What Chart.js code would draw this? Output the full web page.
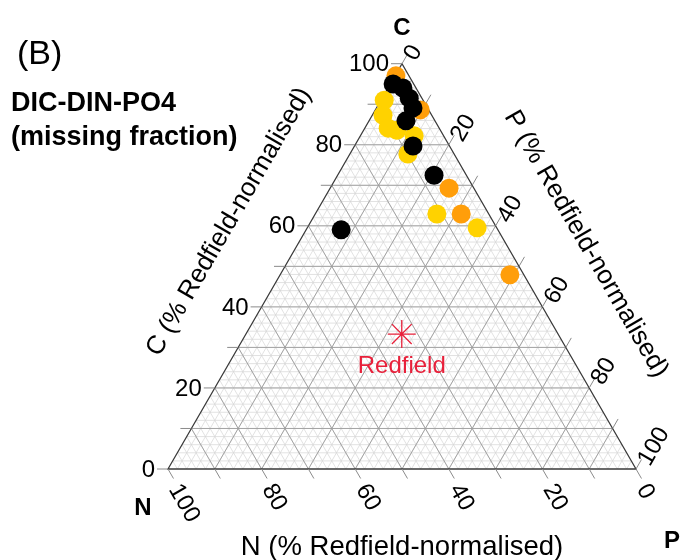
<!DOCTYPE html>
<html>
<head>
<meta charset="utf-8">
<script src="https://cdn.jsdelivr.net/npm/chart.js@4.4.1/dist/chart.umd.min.js"></script>
<style>
  html, body { margin: 0; padding: 0; background: #fff; }
  canvas { display: block; }
</style>
</head>
<body>
<canvas id="ternary" width="681" height="560"></canvas>
<script>
// samples in % Redfield-normalised; N = 100 - C - P
const blackC  = [95.0, 94.0, 91.5, 89.1, 85.9, 79.7, 72.5, 59.0];
const blackP  = [0.6, 3.2, 5.8, 7.8, 7.9, 12.5, 20.6, 7.5];
const yellowC = [91.0, 87.3, 84.1, 83.6, 82.2, 77.7, 62.9, 59.5];
const yellowP = [0.7, 2.3, 5.0, 7.1, 11.5, 12.4, 26.0, 36.3];
const orangeC = [97.0, 88.6, 69.3, 62.9, 47.9];
const orangeP = [0.2, 9.6, 25.4, 31.2, 49.1];
const redfieldC = [33.3];
const redfieldP = [33.3];

const tickValues = [0, 20, 40, 60, 80, 100];

const H = Math.sqrt(3) / 2;
// ternary (C, P) -> cartesian, triangle side = 100, N corner at origin
const tern = (c, p) => ({ x: p + c / 2, y: c * H });
const toPoints = (cs, ps) => cs.map((c, i) => tern(c, ps[i]));

const FONT = "'Liberation Sans', Arial, sans-serif";

function drawText(ctx, s, x, y, o) {
  ctx.save();
  ctx.translate(x, y);
  if (o.rot) ctx.rotate(o.rot * Math.PI / 180);
  ctx.font = o.font;
  ctx.fillStyle = o.color || "#000";
  ctx.textAlign = o.align || "center";
  ctx.textBaseline = o.base || "middle";
  ctx.fillText(s, 0, 0);
  ctx.restore();
}

const ternaryFrame = {
  id: "ternaryFrame",
  beforeDatasetsDraw(chart) {
    const ctx = chart.ctx;
    const sx = chart.scales.x, sy = chart.scales.y;
    const P = (c, p) => {
      const t = tern(c, p);
      return [sx.getPixelForValue(t.x), sy.getPixelForValue(t.y)];
    };
    const seg = (a, b) => {
      ctx.beginPath();
      ctx.moveTo(a[0], a[1]);
      ctx.lineTo(b[0], b[1]);
      ctx.stroke();
    };

    // fine grid every 2 %, coarse every 10 %
    [[2, "#d6d6d6", 0.7], [10, "#9c9c9c", 0.9]].forEach(([step, col, w]) => {
      ctx.strokeStyle = col;
      ctx.lineWidth = w;
      for (let k = step; k < 100; k += step) {
        seg(P(k, 0), P(k, 100 - k));          // constant C
        seg(P(0, k), P(100 - k, k));          // constant P
        seg(P(0, 100 - k), P(100 - k, 0));    // constant N
      }
    });

    // outer triangle
    ctx.strokeStyle = "#3a3a3a";
    ctx.lineWidth = 1.3;
    const cN = P(0, 0), cP = P(0, 100), cC = P(100, 0);
    ctx.beginPath();
    ctx.moveTo(cN[0], cN[1]);
    ctx.lineTo(cP[0], cP[1]);
    ctx.lineTo(cC[0], cC[1]);
    ctx.closePath();
    ctx.stroke();

    // ticks every 10 %
    const tl = 11;
    ctx.strokeStyle = "#8a8a8a";
    ctx.lineWidth = 1;
    for (let k = 0; k <= 100; k += 10) {
      const a = P(k, 0);
      seg(a, [a[0] - tl, a[1]]);
      const b = P(0, 100 - k);
      seg(b, [b[0] + tl * 0.5, b[1] + tl * H]);
      const c = P(100 - k, k);
      seg(c, [c[0] + tl * 0.5, c[1] - tl * H]);
    }

    // tick labels
    const tf = "24px " + FONT;
    tickValues.forEach(v => {
      const a = P(v, 0);
      drawText(ctx, String(v), a[0] - 13, a[1] + 1, { font: tf, align: "right" });
      const b = P(0, 100 - v);
      drawText(ctx, String(v), b[0] + 6, b[1] + 17, { font: tf, align: "left", rot: 60 });
      const c = P(100 - v, v);
      drawText(ctx, String(v), c[0] + 8, c[1] - 5, { font: tf, align: "left", rot: -60 });
    });

    // axis titles
    const af = "26px " + FONT;
    drawText(ctx, "C (% Redfield-normalised)", 229, 222, { font: af, rot: -60 });
    drawText(ctx, "P (% Redfield-normalised)", 586, 244, { font: af, rot: 60 });
    drawText(ctx, "N (% Redfield-normalised)", 402, 547, { font: "27.5px " + FONT });

    // corner letters
    const bf = "bold 24px " + FONT;
    drawText(ctx, "C", 402, 28, { font: bf });
    drawText(ctx, "N", 143, 508, { font: bf });
    drawText(ctx, "P", 672, 541, { font: bf });

    // panel labels
    drawText(ctx, "(B)", 17, 55, { font: "34px " + FONT, align: "left" });
    drawText(ctx, "DIC-DIN-PO4", 11, 104, { font: "bold 27px " + FONT, align: "left" });
    drawText(ctx, "(missing fraction)", 11, 138, { font: "bold 27px " + FONT, align: "left" });

    // reference point label
    const r = P(redfieldC[0], redfieldP[0]);
    drawText(ctx, "Redfield", r[0], r[1] + 32, { font: "24px " + FONT, color: "#e8203a" });
  }
};

const dot = (label, pts, color) => ({
  label,
  data: pts,
  backgroundColor: color,
  borderColor: color,
  borderWidth: 0,
  pointRadius: 9.5,
  clip: false
});

new Chart(document.getElementById("ternary"), {
  type: "scatter",
  data: {
    datasets: [
      {
        label: "Redfield",
        data: toPoints(redfieldC, redfieldP),
        pointStyle: "star",
        pointRadius: 14,
        borderColor: "#e8203a",
        borderWidth: 1.3,
        backgroundColor: "#e8203a",
        clip: false
      },
      dot("black", toPoints(blackC, blackP), "#000000"),
      dot("yellow", toPoints(yellowC, yellowP), "#ffd200"),
      dot("orange", toPoints(orangeC, orangeP), "#ff9e0a")
    ]
  },
  options: {
    responsive: false,
    animation: false,
    devicePixelRatio: 1,
    layout: { padding: 0, autoPadding: false },
    scales: {
      x: { type: "linear", display: false, min: -35.897, max: 109.615 },
      y: { type: "linear", display: false, min: -19.444, max: 100.214 }
    },
    plugins: {
      legend: { display: false },
      tooltip: { enabled: false }
    }
  },
  plugins: [ternaryFrame]
});
</script>
</body>
</html>
